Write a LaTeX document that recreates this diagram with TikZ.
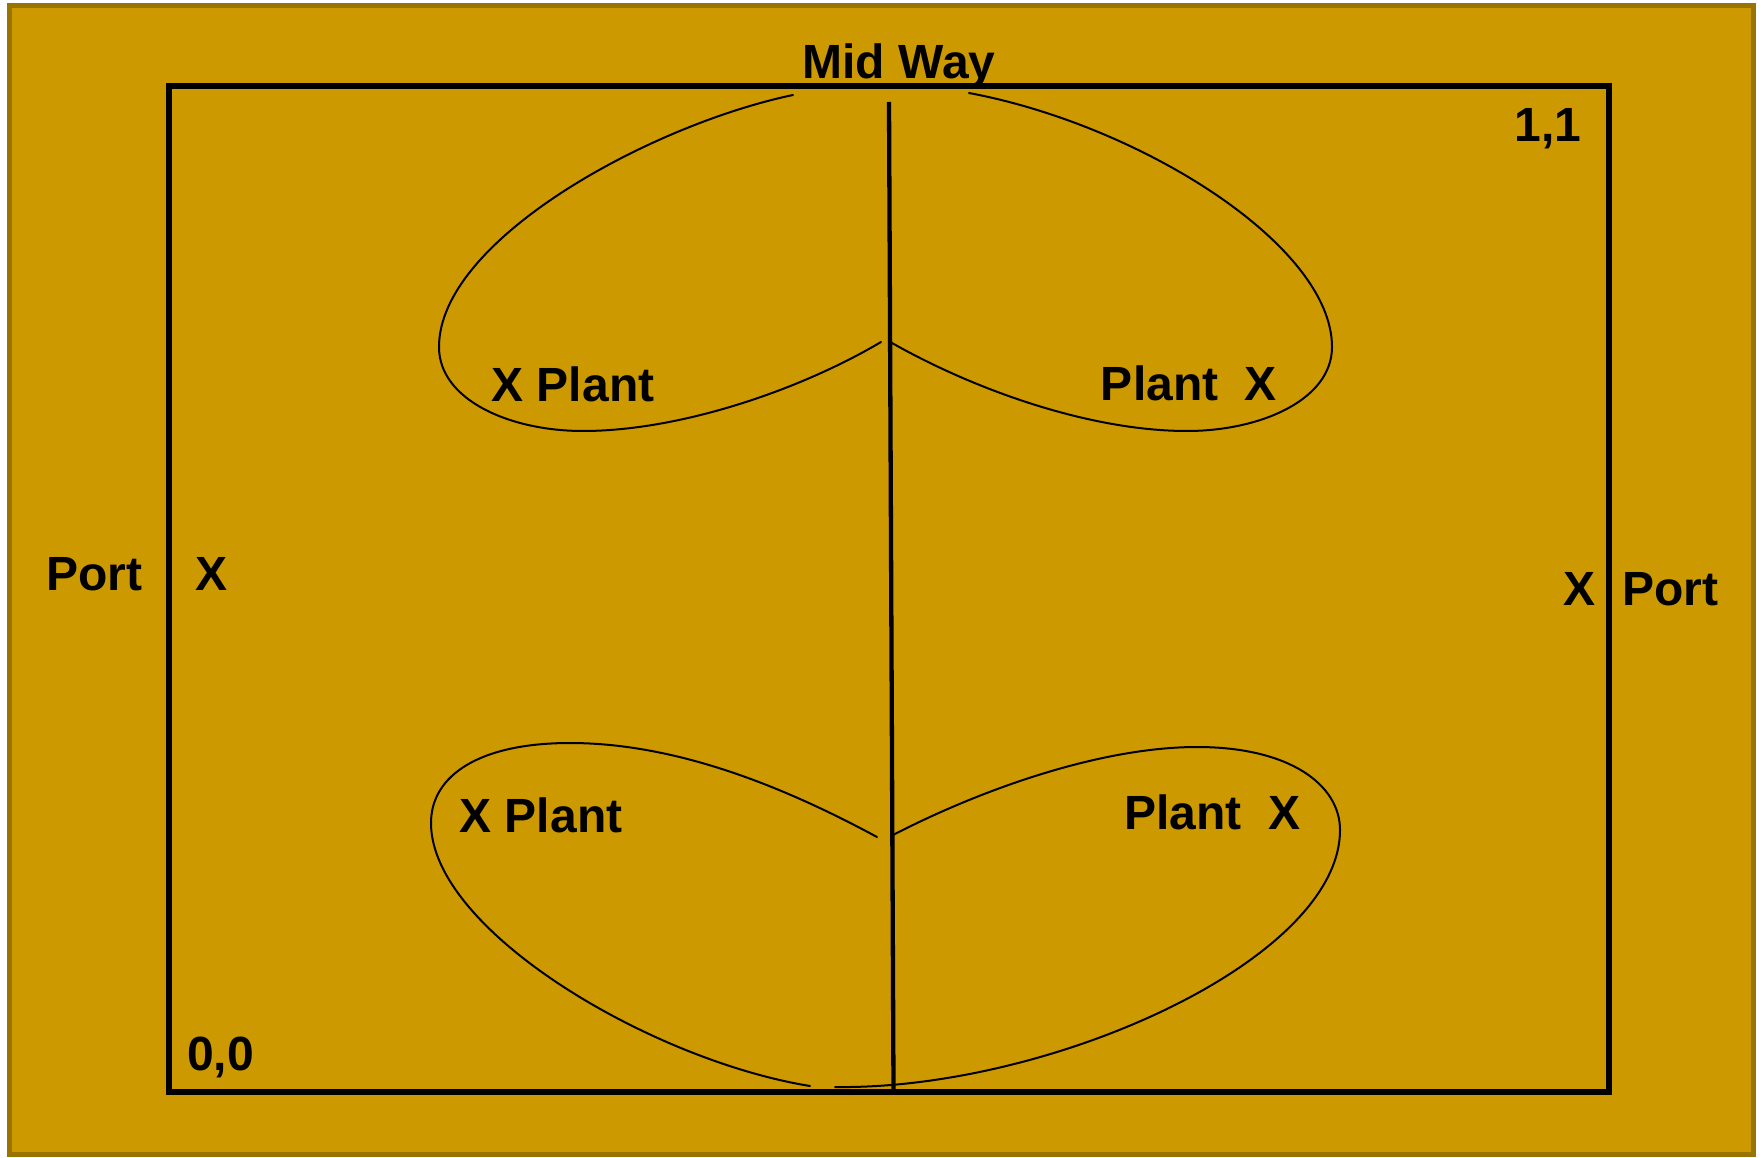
\documentclass[tikz,border=0pt]{standalone}
\usepackage{fontspec}
\setmainfont{Liberation Sans}
\definecolor{gold}{RGB}{204,153,0}
\definecolor{goldedge}{RGB}{153,117,0}
\begin{document}
\begin{tikzpicture}[x=1pt,y=-1pt,
  lbl/.style={font=\fontsize{48}{56}\selectfont\bfseries, anchor=base, inner sep=0pt},
  leaf/.style={line width=2pt, line cap=round},
  frame/.style={line width=6pt},
  stem/.style={line width=4.3pt}]
\useasboundingbox (0,0) rectangle (1764,1158);
\fill[white] (0,0) rectangle (1764,1158);
\draw[fill=gold, draw=goldedge, line width=5pt] (9,5.5) rectangle (1753.5,1154.5);
% frame
\draw[frame] (169,86) rectangle (1609,1092);
% stem
\coordinate (stemtop) at (889,102);
\coordinate (stembot) at (893.5,1090);
\draw[stem] (stemtop) -- (stembot);
% top-left leaf
\draw[leaf] (793,95) .. controls (650,125) and (439,240) .. (439,347)
  .. controls (439,400) and (510,431) .. (583,431)
  .. controls (680,431) and (800,390) .. (881,342);
% top-right leaf
\draw[leaf] (969,93) .. controls (1140,125) and (1332,245) .. (1332,347)
  .. controls (1332,400) and (1260,431) .. (1187,431)
  .. controls (1090,431) and (975,390) .. (892,343);
% bottom-left leaf
\draw[leaf] (877,837) .. controls (790,790) and (680,743) .. (570,743)
  .. controls (480,743) and (431,775) .. (431,823)
  .. controls (431,930) and (650,1060) .. (810,1086);
% bottom-right leaf
\draw[leaf] (893,835) .. controls (980,790) and (1100,747) .. (1197,747)
  .. controls (1290,747) and (1340,785) .. (1340,830)
  .. controls (1340,960) and (1050,1090) .. (835,1087);
% labels
\node[lbl] (mid) at (899,78.3) {Mid Way};
\node[lbl] (tl) at (573,401.7) {X Plant};
\node[lbl] (tr) at (1189,400.7) {Plant~~X};
\node[lbl] (bl) at (541,832.7) {X Plant};
\node[lbl] (br) at (1212.5,829.3) {Plant~~X};
\node[lbl] (portl) at (94,590) {Port};
\node[lbl] (xl) at (211.7,590) {X};
\node[lbl] (xr) at (1579.5,605) {X};
\node[lbl] (portr) at (1670.6,605) {Port};
\node[lbl] (oneone) at (1548,141.7) {1,1};
\node[lbl] (zero) at (220.5,1070.7) {0,0};
\end{tikzpicture}
\end{document}
